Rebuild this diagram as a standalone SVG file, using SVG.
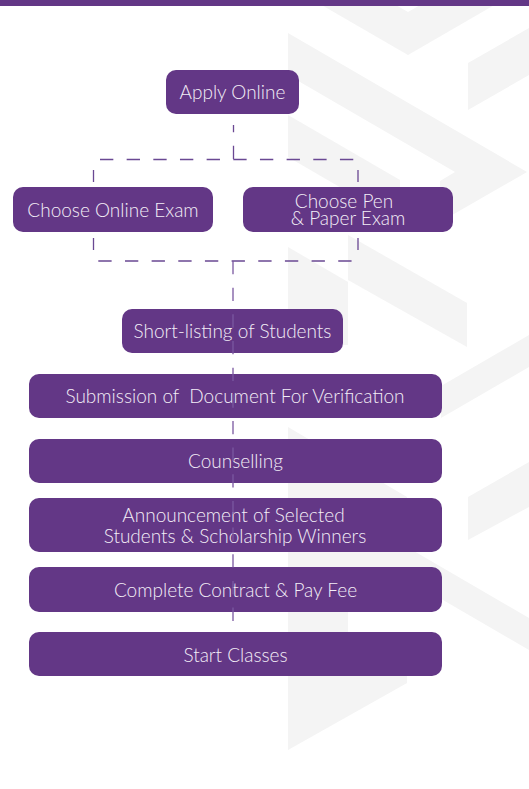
<svg xmlns="http://www.w3.org/2000/svg" width="529" height="789" viewBox="0 0 529 789">
<style>
.bg{fill:#f4f4f4}
.box{fill:#633786}
.t{fill:#f3eef7;font-family:Lato,"Liberation Sans",sans-serif;font-weight:300;font-size:19px;text-anchor:middle}
.dash{fill:none;stroke:#6a4893;stroke-width:1.3;stroke-dasharray:13.33 13.33}
.solid{fill:none;stroke:#6a4893;stroke-width:1.3}
.thru{fill:none;stroke:#7a58a0;stroke-width:1.3;stroke-dasharray:13.33 13.33}
</style>
<rect width="529" height="789" fill="#ffffff"/>
<g id="background">
<polygon class="bg" points="313,0 408,55 503,0 429,0 408,12 387,0"/>
<polygon class="bg" points="468,63 529,28 529,75 468,110"/>
<polygon class="bg" points="288,33 527,172 440,222 440,181 455,172 288,75"/>
<polygon class="bg" points="288,115 400,180 400,222 288,157"/>
<polygon class="bg" points="348,235 467,303 467,347 348,280"/>
<polygon class="bg" points="288,247 348,282 348,345 288,345"/>
<polygon class="bg" points="441,386 529,335 529,367 441,418"/>
<polygon class="bg" points="288,427 407,497 407,600 348,600 348,640 407,640 407,683 288,750"/>
<polygon class="bg" points="468,497 529,462 529,507 468,540"/>
<polygon class="bg" points="407,547 529,618 529,650 407,579"/>
</g>
<rect x="0" y="0" width="529" height="6" fill="#633786"/>
<g id="connectors">
<path class="dash" d="M233.5 159 V125"/>
<path class="dash" d="M100 159.5 H353.3"/>
<path class="solid" d="M93.5 170 V182 M358 170 V182 M93.5 238 V250 M358 238 V250"/>
<path class="dash" d="M98.3 261 H351.7"/>
</g>
<g id="apply-online"><rect class="box" x="166" y="70" width="133" height="44" rx="10"/><text class="t" x="232.5" y="99">Apply Online</text></g>
<g id="choose-online-exam"><rect class="box" x="13" y="187" width="200" height="45" rx="10"/><text class="t" x="113" y="216.5">Choose Online Exam</text></g>
<g id="choose-pen-paper"><rect class="box" x="243" y="187" width="210" height="45" rx="10"/><text class="t"><tspan x="344" y="208">Choose Pen</tspan><tspan x="348" y="225">&amp; Paper Exam</tspan></text></g>
<g id="short-listing"><rect class="box" x="122" y="309" width="221" height="44" rx="10"/><text class="t" x="232.5" y="338">Short-listing of Students</text></g>
<g id="submission"><rect class="box" x="29" y="374" width="413" height="44" rx="10"/><text class="t" x="235" y="403" xml:space="preserve">Submission of  Document For Verification</text></g>
<g id="counselling"><rect class="box" x="29" y="439" width="413" height="44" rx="10"/><text class="t" x="235.5" y="468">Counselling</text></g>
<g id="announcement"><rect class="box" x="29" y="498" width="413" height="54" rx="10"/><text class="t"><tspan x="233.5" y="522">Announcement of Selected</tspan><tspan x="235" y="543">Students &amp; Scholarship Winners</tspan></text></g>
<g id="contract"><rect class="box" x="29" y="567" width="413" height="45" rx="10"/><text class="t" x="235.5" y="597">Complete Contract &amp; Pay Fee</text></g>
<g id="start-classes"><rect class="box" x="29" y="632" width="413" height="44" rx="10"/><text class="t" x="235.5" y="661.5">Start Classes</text></g>
<g id="connector-main"><path class="thru" d="M233 261 V621"/></g>
</svg>
